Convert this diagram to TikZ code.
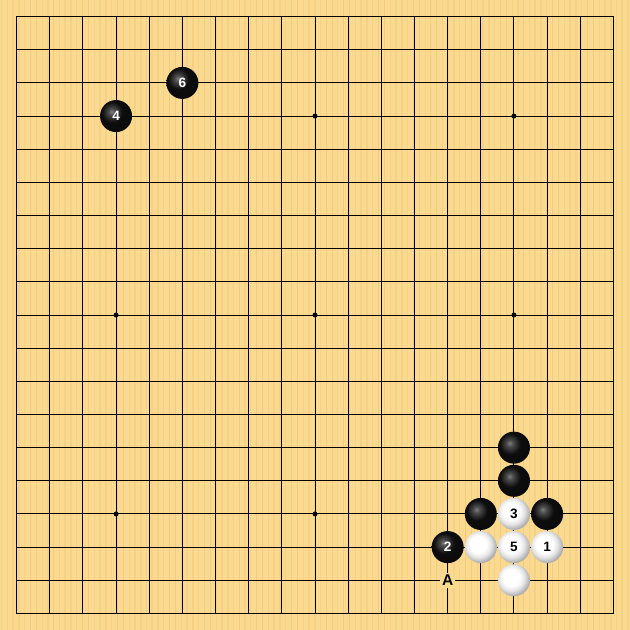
\documentclass[tikz,border=0pt]{standalone}
\usepackage{fontspec}
\setsansfont{Liberation Sans}
\definecolor{board}{RGB}{250,218,145}
\definecolor{grain}{RGB}{240,196,110}
\pgfdeclareradialshading{whitestone}{\pgfpoint{-5bp}{5bp}}{%
    color(0bp)=(white); color(13bp)=(white); color(20bp)=(black!10);
    color(29bp)=(black!35); color(100bp)=(black!35)}
\pgfdeclareradialshading{blackstone}{\pgfpoint{-7bp}{7bp}}{%
    color(0bp)=(black!50); color(5bp)=(black!70); color(16bp)=(black!95);
    color(100bp)=(black)}

\begin{document}
\begin{tikzpicture}[
    x = 0.6cm, y = -0.6cm,
    blk/.style = {circle, minimum size=0.58cm, inner sep=0pt, shading=blackstone, text=white, font=\sffamily\bfseries\scriptsize},
    wht/.style = {circle, minimum size=0.58cm, inner sep=0pt, shading=whitestone, text=black, font=\sffamily\bfseries\scriptsize},
    lbl/.style = {fill=board, inner sep=0pt, minimum size=0.27cm, font=\sffamily\bfseries\footnotesize}
]

\fill[board] (-0.5,-0.5) rectangle (18.5,18.5);
\useasboundingbox (-0.5,-0.5) rectangle (18.5,18.5);

% wood grain
\foreach \k in {0,...,180}
    \draw[grain, line width=0.4pt, opacity=0.4] ({-0.45+\k*0.105+0.03*mod(\k*7,5)},-0.5) -- ++(0,19);

% grid
\foreach \i in {0,...,18} {
    \draw[line width=0.5pt] (\i,0) -- (\i,18);
    \draw[line width=0.5pt] (0,\i) -- (18,\i);
}
\draw[line width=0.7pt] (0,0) rectangle (18,18);

% star points
\foreach \c in {3,9,15}
    \foreach \r in {3,9,15}
        \fill (\c,\r) circle (0.075);

% stones
\node[blk] (m6) at (5,2) {6};
\node[blk] (m4) at (3,3) {4};

\node[blk] (b1) at (15,13) {};
\node[blk] (b2) at (15,14) {};
\node[blk] (b3) at (14,15) {};
\node[wht] (m3) at (15,15) {3};
\node[blk] (b4) at (16,15) {};
\node[blk] (m2) at (13,16) {2};
\node[wht] (w1) at (14,16) {};
\node[wht] (m5) at (15,16) {5};
\node[wht] (m1) at (16,16) {1};
\node[wht] (w2) at (15,17) {};

\node[lbl] (A) at (13,17) {A};

\end{tikzpicture}
\end{document}
